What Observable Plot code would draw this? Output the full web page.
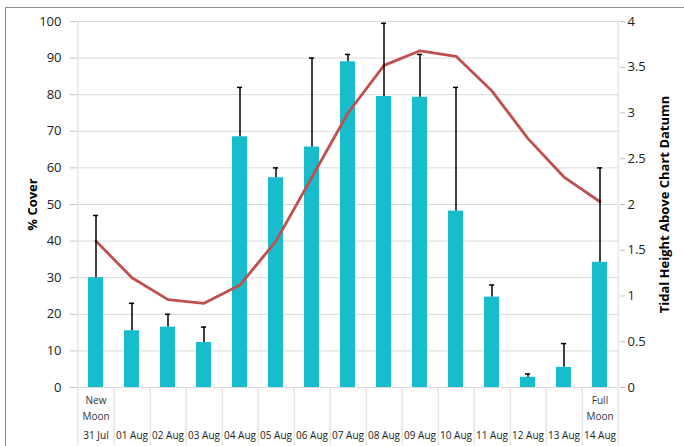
<!DOCTYPE html>
<html><head><meta charset="utf-8">
<script src="https://cdn.jsdelivr.net/npm/d3@7"></script>
<script src="https://cdn.jsdelivr.net/npm/@observablehq/plot@0.6"></script>
<style>
html,body{margin:0;padding:0;background:#fff;}
#wrap{position:relative;width:684px;height:446px;overflow:hidden;}
#border{position:absolute;left:5px;top:7px;width:700px;height:460px;border-left:1px solid #8c8c8c;border-top:1px solid #8c8c8c;}
svg{position:absolute;left:0;top:0;overflow:visible;}
</style></head>
<body><div id="wrap"><div id="border"></div></div>
<script>
const dates = ["31 Jul","01 Aug","02 Aug","03 Aug","04 Aug","05 Aug","06 Aug","07 Aug","08 Aug","09 Aug","10 Aug","11 Aug","12 Aug","13 Aug","14 Aug"];
const moonLabels = ["New\nMoon","","","","","","","","","","","","","","Full\nMoon"];
const cover = [30,15.5,16.5,12.3,68.5,57.3,65.7,89,79.5,79.3,48.2,24.7,2.8,5.5,34.2];
const coverUpper = [47,23,20,16.5,82,60,90,91,99.5,91,82,28,3.7,12,60];
const tide = [1.6,1.2,0.96,0.92,1.12,1.6,2.3,3.0,3.52,3.68,3.62,3.24,2.72,2.3,2.03];
const leftTicks = [0,10,20,30,40,50,60,70,80,90,100];
const rightTicks = [0,0.5,1,1.5,2,2.5,3,3.5,4];

const ratio = 100/4;
const data = dates.map((d,i)=>({date:d, moon:moonLabels[i], cover:cover[i], upper:coverUpper[i], tide:tide[i]*ratio}));
const font = "'Open Sans', sans-serif";
const step = (684-75-65)/15;

const chart = Plot.plot({
  width:684, height:446,
  marginLeft:75, marginRight:65, marginTop:21, marginBottom:59,
  style:{fontFamily:font, fontSize:"12px", color:"#222", background:"transparent"},
  x:{domain:dates, paddingInner:0.59, paddingOuter:0.295, axis:null},
  y:{domain:[0,100], axis:null},
  marks:[
    Plot.gridY(leftTicks, {stroke:"#d9d9d9", strokeOpacity:1, strokeWidth:1}),
    Plot.ruleX([dates[0]], {x:d=>d, dx:-step/2, y1:100, y2:-16, stroke:"#d9d9d9"}),
    Plot.ruleX(dates, {x:d=>d, dx:step/2, y1:0, y2:-16, stroke:"#d9d9d9"}),
    Plot.ruleX([dates[dates.length-1]], {x:d=>d, dx:step/2, y1:100, y2:0, stroke:"#d9d9d9"}),
    Plot.axisY(leftTicks, {anchor:"left", tickSize:5, tickPadding:9, stroke:"#bfbfbf", fontSize:13, label:null}),
    Plot.axisY(rightTicks.map(v=>v*ratio), {anchor:"right", tickSize:5, tickPadding:3, stroke:"#bfbfbf", fontSize:13, tickFormat:v=>String(v/ratio), label:null}),
    Plot.barY(data, {x:"date", y:"cover", fill:"#17bccd"}),
    Plot.line(data, {x:"date", y:"tide", stroke:"#c0504d", strokeWidth:2.8, strokeLinejoin:"round"}),
    Plot.ruleX(data, {x:"date", y1:"cover", y2:"upper", stroke:"#000", strokeWidth:1.5}),
    Plot.tickY(data, {x:"date", y:"upper", stroke:"#000", strokeWidth:1.5, insetLeft:(step*0.41-5)/2, insetRight:(step*0.41-5)/2}),
    Plot.axisX(dates, {anchor:"bottom", tickSize:0, tickPadding:44, fontSize:10, label:null}),
    Plot.text(data, {x:"date", text:"moon", frameAnchor:"bottom", dy:5, lineHeight:1.6, lineAnchor:"top", fontSize:10, fill:"#333"}),
    Plot.text(["% Cover"], {frameAnchor:"left", textAnchor:"middle", rotate:-90, dx:-43, fontSize:13, fontWeight:"bold", fill:"#000"}),
    Plot.text(["Tidal Height Above Chart Datumn"], {frameAnchor:"right", textAnchor:"middle", rotate:-90, dx:45, fontSize:13, fontWeight:"bold", fill:"#000"})
  ]
});
document.getElementById("wrap").appendChild(chart);
</script></body></html>
